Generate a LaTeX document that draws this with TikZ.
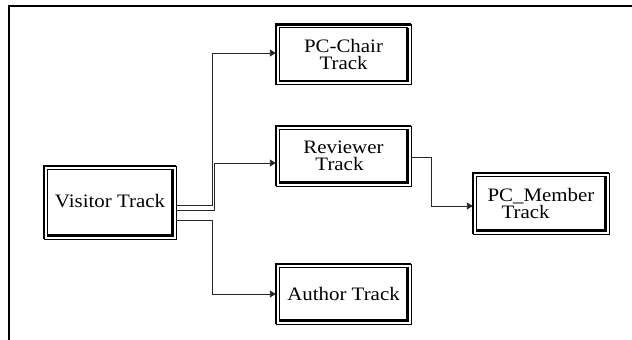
\documentclass[tikz,border=0pt]{standalone}
\usepackage{fontspec}
\setmainfont{Liberation Serif}[FakeStretch=1.1]
\usetikzlibrary{arrows.meta}

% raised double frame round a track node: heavy outer top/left,
% heavy inner bottom/right
\newcommand\bevelbox[1]{%
  \draw[line width=1.1pt] (#1.south west) -- (#1.south east) -- (#1.north east);
  \draw[line width=2.6pt] (#1.south west) -- (#1.north west) -- (#1.north east);
  \draw[line width=1.1pt] ([shift={(3.6pt,3.6pt)}]#1.south west)
    -- ([shift={(3.6pt,-3.6pt)}]#1.north west)
    -- ([shift={(-3.6pt,-3.6pt)}]#1.north east);
  \draw[line width=2.6pt] ([shift={(3.6pt,3.6pt)}]#1.south west)
    -- ([shift={(-3.6pt,3.6pt)}]#1.south east)
    -- ([shift={(-3.6pt,-3.6pt)}]#1.north east);
}

\begin{document}
\begin{tikzpicture}[x=1pt,y=-1pt,
  trackbox/.style={rectangle, inner sep=0pt, minimum width=135pt,
    minimum height=60pt, font={\fontsize{19}{17.6}\selectfont}, align=center},
  conn/.style={line width=0.9pt, draw=black!85,
    -{Triangle[length=6pt,width=7pt]}}]
\useasboundingbox (0,0) rectangle (632,340);

% outer frame (top and left edges)
\draw[line width=2.5pt] (9,345) -- (9,6) -- (640,6);

% track nodes
\node[trackbox, minimum width=132pt, minimum height=73pt, text depth=3pt] (visitor) at (110,202.5) {Visitor Track};
\node[trackbox] (chair) at (343.5,54.5) {PC-Chair\\Track};
\node[trackbox, align=left] (reviewer) at (343.5,156) {Reviewer\\\hspace{12pt}Track};
\node[trackbox, minimum width=136pt, minimum height=61pt, align=left] (member) at (541,203.5) {PC\_Member\\\hspace{14pt}Track};
\node[trackbox] (author) at (343.5,294) {Author Track};

\foreach \n in {visitor,chair,reviewer,member,author} {\bevelbox{\n}}

% connectors
\draw[conn] ([yshift=-3pt]visitor.east) -- ++(36,0) |- ([yshift=1.5pt]chair.west);
\draw[conn] ([yshift=-7.5pt]visitor.east) -- ++(38.5,0) |- ([yshift=-7pt]reviewer.west);
\draw[conn] ([yshift=-18pt]visitor.east) -- ++(36,0) |- (author.west);
\draw[conn] ([yshift=-1.3pt]reviewer.east) -- ++(20,0) |- ([yshift=-2.5pt]member.west);
\end{tikzpicture}
\end{document}
